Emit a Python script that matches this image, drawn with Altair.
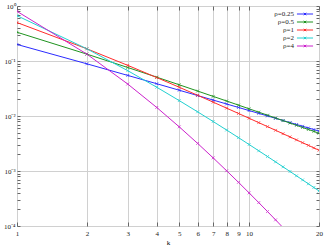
import altair as alt
import pandas as pd

k = list(range(1, 21))
series = ["ρ=0.25", "ρ=0.5", "ρ=1", "ρ=2", "ρ=4"]
colors = ["#2b2bff", "#1f931f", "#ff2b2b", "#22d0d0", "#cc22cc"]

v025 = [0.2, 0.08889, 0.05470, 0.03861, 0.02942, 0.02354, 0.01948, 0.01653, 0.01430, 0.01255,
        0.01116, 0.01002, 0.009074, 0.008278, 0.007600, 0.007015, 0.006507, 0.006061, 0.005668, 0.005318]
v05 = [0.3333, 0.13333, 0.07619, 0.05079, 0.03694, 0.02842, 0.02273, 0.01872, 0.01577, 0.01351,
       0.01175, 0.01034, 0.009192, 0.008241, 0.007444, 0.006767, 0.006187, 0.005685, 0.005248, 0.004864]
v1 = [0.5, 0.16667, 0.08333, 0.05, 0.03333, 0.02381, 0.017857, 0.013889, 0.011111, 0.009091,
      0.007576, 0.006410, 0.005495, 0.004762, 0.004167, 0.003676, 0.003268, 0.002924, 0.002632, 0.002381]
v2 = [0.6667, 0.16667, 0.06667, 0.03333, 0.019048, 0.011905, 0.007937, 0.005556, 0.004040, 0.003030,
      0.002331, 0.001832, 0.001465, 0.001190, 0.000980, 0.000817, 0.000688, 0.000585, 0.000501, 0.000433]
v4 = [0.8, 0.13333, 0.038095, 0.014286, 0.006349, 0.003175, 0.001732, 0.0010101, 0.0006216, 0.0003996,
      0.0002664, 0.0001832, 0.0001293, 0.00009337, 0.0000688, 0.0000516, 0.0000393, 0.0000304, 0.0000238, 0.0000188]

x_ticks = [1, 2, 3, 4, 5, 6, 7, 8, 9, 10, 20]
y_major = [1e-4, 1e-3, 1e-2, 1e-1, 1]
y_minor = [m * 10.0 ** e for e in range(-4, 0) for m in range(2, 10)]

rows = []
for name, vals in zip(series, [v025, v05, v1, v2, v4]):
    for kk, v in zip(k, vals):
        rows.append({"k": kk, "p": v, "series": name})
df = pd.DataFrame(rows)

FONT = "Liberation Serif"
xs = alt.Scale(type="log", domain=[1, 20], nice=False)
ys = alt.Scale(type="log", domain=[1e-4, 1], nice=False)

ylab = ("datum.value >= 0.5 ? '10⁰' : datum.value >= 0.05 ? '10⁻¹' : "
        "datum.value >= 0.005 ? '10⁻²' : datum.value >= 0.0005 ? '10⁻³' : '10⁻⁴'")

color = alt.Color(
    "series:N",
    scale=alt.Scale(domain=series, range=colors),
    legend=alt.Legend(
        title=None, orient="none", legendX=284, legendY=4,
        symbolType="M-2.3,0H2.3M-0.35,-0.35L0.35,0.35M-0.35,0.35L0.35,-0.35",
        symbolSize=49, symbolStrokeWidth=1, symbolFillColor="transparent",
        labelAlign="right", labelOffset=alt.ExprRef("-15"), labelFont=FONT, labelFontSize=7,
        labelColor="#222", rowPadding=0, padding=0, labelLimit=80,
    ),
)

lines = alt.Chart(df).mark_line(strokeWidth=1, clip=True).encode(
    x=alt.X("k:Q", scale=xs, title="k",
            axis=alt.Axis(orient="bottom", values=x_ticks, format="d", grid=True, ticks=False,
                          domain=False, labelPadding=3, labelFont=FONT, labelFontSize=7,
                          labelColor="#222", titleFont=FONT, titleFontSize=7,
                          titleFontWeight="normal", titlePadding=2, gridColor="#d0d0d0",
                          labelFlush=False)),
    y=alt.Y("p:Q", scale=ys, title=None,
            axis=alt.Axis(orient="left", values=y_major, labelExpr=ylab, grid=True, ticks=False,
                          domain=False, labelPadding=2, labelFont=FONT, labelFontSize=7,
                          labelColor="#222", gridColor="#d0d0d0", labelFlush=False)),
    color=color,
)

points = alt.Chart(df).mark_point(
    shape="M-1,-1L1,1M-1,1L1,-1", size=8, filled=False, strokeWidth=1, clip=True
).encode(
    x=alt.X("k:Q", scale=xs, title=None,
            axis=alt.Axis(orient="top", values=x_ticks, labels=False, grid=False, domain=False,
                          ticks=True, tickSize=4, offset=-4, tickColor="#666")),
    y=alt.Y("p:Q", scale=ys, title=None,
            axis=alt.Axis(orient="left", values=y_major + y_minor, labels=False, grid=False,
                          domain=False, ticks=True, tickSize=3, offset=-3, tickColor="#666")),
    color=alt.Color("series:N", scale=alt.Scale(domain=series, range=colors), legend=None),
)

hidden = alt.Chart(df).mark_point(opacity=0, clip=True).encode(
    x=alt.X("k:Q", scale=xs, title=None,
            axis=alt.Axis(orient="bottom", values=x_ticks, labels=False, grid=False, domain=False,
                          ticks=True, tickSize=4, offset=-4, tickColor="#666")),
    y=alt.Y("p:Q", scale=ys, title=None,
            axis=alt.Axis(orient="right", values=y_major + y_minor, labels=False, grid=False,
                          domain=False, ticks=True, tickSize=3, offset=-3, tickColor="#666")),
)

chart = alt.layer(lines, points, hidden).resolve_axis(
    x="independent", y="independent"
).resolve_scale(color="shared").properties(
    width=302, height=220,
    autosize=alt.AutoSizeParams(type="none"),
    padding={"left": 17, "top": 6, "right": 11, "bottom": 22},
).configure_view(stroke="#555", strokeWidth=1).configure(background="white")

chart.save("out.html", embed_options={"renderer": "svg", "actions": False})
